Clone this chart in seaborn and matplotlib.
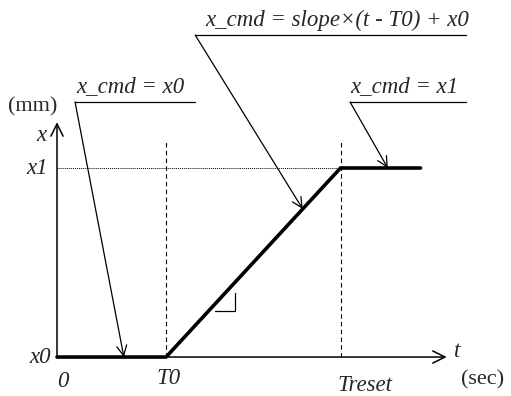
import seaborn as sns
import matplotlib.pyplot as plt

# command profile (symbolic units)
t_pts = [0.0, 1.5, 3.9, 5.0]      # 0, T0, Treset, end
x_pts = [0.0, 0.0, 2.6, 2.6]      # x0, x0, x1, x1
t_labels = ["0", "T0", "Treset"]
x_labels = ["x0", "x1"]
callouts = ["x_cmd = x0", "x_cmd = slope×(t - T0) + x0", "x_cmd = x1"]

T0, Treset = t_pts[1], t_pts[2]
x0, x1 = x_pts[0], x_pts[2]

sns.set_style("white")
plt.rcParams['font.family'] = ['Liberation Serif', 'DejaVu Serif']

fig = plt.figure(figsize=(5.11, 3.96), dpi=100)
ax = fig.add_axes([0, 0, 1, 1])
ax.set_xlim(-0.784, 6.245)
ax.set_ylim(-0.536, 4.911)
ax.axis('off')

# axes with arrows
ax.annotate("", xy=(5.36, 0), xytext=(0, 0),
            arrowprops=dict(arrowstyle="->", lw=1.1, color="black",
                            mutation_scale=22, shrinkA=0, shrinkB=0))
ax.annotate("", xy=(0, 3.23), xytext=(0, 0),
            arrowprops=dict(arrowstyle="->", lw=1.1, color="black",
                            mutation_scale=22, shrinkA=0, shrinkB=0))

# guide lines
ax.plot([T0, T0], [0, 2.96], color="black", lw=0.8, ls=(0, (4, 3)))
ax.plot([Treset, Treset], [0, 2.96], color="black", lw=0.8, ls=(0, (4, 3)))
ax.plot([0, Treset], [x1, x1], color="black", lw=0.7, ls=(0, (1, 1)))

# command profile
sns.lineplot(x=t_pts, y=x_pts, sort=False, estimator=None, color="black",
             lw=2.6, ax=ax)

# slope mark
ax.plot([2.18, 2.45, 2.45], [0.633, 0.633, 0.88], color="black", lw=0.9)

ital = dict(style="italic", fontsize=16.5)
roman = dict(fontsize=16)

# tick labels
ax.text(0.08, -0.33, t_labels[0], ha="center", va="center", **ital)
ax.text(T0 + 0.04, -0.29, t_labels[1], ha="center", va="center", **ital)
ax.text(4.24, -0.385, t_labels[2], ha="center", va="center", **ital)
ax.text(-0.09, x0, x_labels[0], ha="right", va="center", **ital)
ax.text(-0.12, x1, x_labels[1], ha="right", va="center", **ital)
ax.text(-0.21, 3.05, "x", ha="center", va="center", **ital)
ax.text(5.5, 0.07, "t", ha="center", va="center", **ital)
ax.text(0.01, 3.44, "(mm)", ha="right", va="center", **roman)
ax.text(5.85, -0.32, "(sec)", ha="center", va="center", **roman)


def slope_at(t):
    return x0 + (t - T0) / (Treset - T0) * (x1 - x0)


# callouts: text, text left, underline (left, right, y), arrow tip
specs = [
    (callouts[0], 0.26, 0.248, 1.90, 3.51, (0.92, x0)),
    (callouts[1], 2.04, 1.90, 5.63, 4.43, (3.38, slope_at(3.38))),
    (callouts[2], 4.04, 4.03, 5.63, 3.51, (4.55, x1)),
]
for txt, tx, left, right, yy, tip in specs:
    ax.plot([left, right], [yy, yy], color="black", lw=0.9)
    ax.text(tx, yy + 0.13, txt, ha="left", va="baseline", **ital)
    ax.annotate("", xy=tip, xytext=(left, yy),
                arrowprops=dict(arrowstyle="->", lw=0.9, color="black",
                                mutation_scale=18, shrinkA=0, shrinkB=0))

fig.savefig("out.png", dpi=100)
